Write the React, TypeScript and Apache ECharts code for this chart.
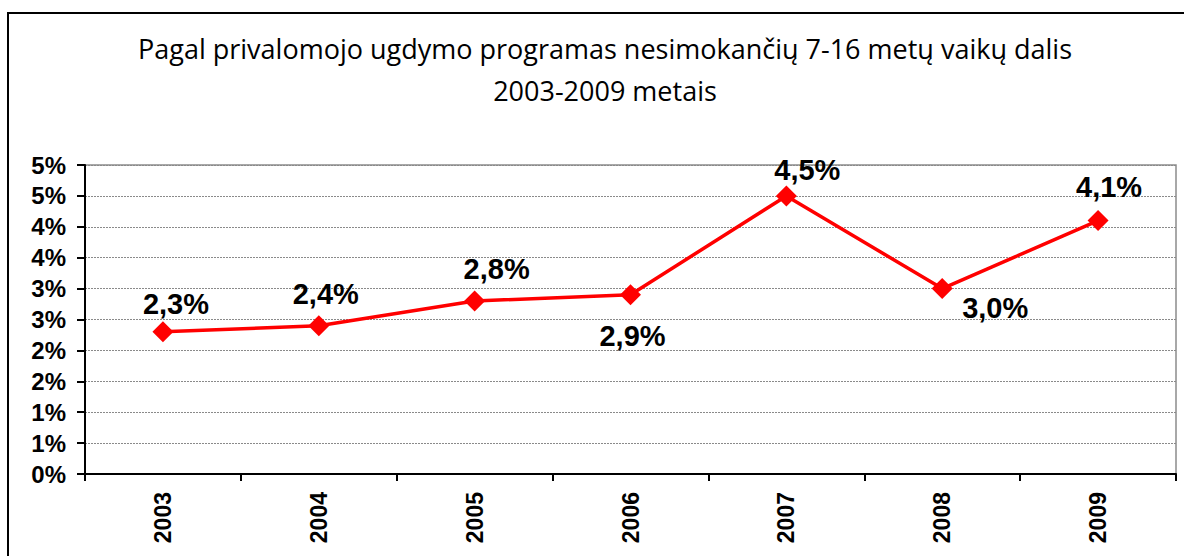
import React, { useEffect, useRef } from "react";
import * as echarts from "echarts";

const titleLine1 = "Pagal privalomojo ugdymo programas nesimokančių 7-16 metų vaikų dalis";
const titleLine2 = "2003-2009 metais";
const years = ["2003", "2004", "2005", "2006", "2007", "2008", "2009"];
const shares = [2.3, 2.4, 2.8, 2.9, 4.5, 3.0, 4.1];
const yMin = 0;
const yMax = 5;
const yStep = 0.5;

const labelPlacement = ["top", "top", "top", "bottom", "top", "bottom", "top"];
const labelShift: [number, number][] = [
  [13, 2],
  [7, -2],
  [22, -2],
  [2, 11],
  [21, 4],
  [53, -11],
  [11, -4],
];

const ARIAL = "'Liberation Sans', Arial, sans-serif";

export default function App() {
  const ref = useRef<HTMLDivElement>(null);
  useEffect(() => {
    if (!ref.current) return;
    const chart = echarts.init(ref.current, null, { renderer: "svg" });
    chart.setOption({
      animation: false,
      backgroundColor: "#ffffff",
      title: [
        {
          text: titleLine1,
          left: 600,
          top: 30,
          textAlign: "center",
          textStyle: { fontFamily: "'Open Sans', sans-serif", fontWeight: "normal", fontSize: 27, color: "#000" },
        },
        {
          text: titleLine2,
          left: 600,
          top: 72,
          textAlign: "center",
          textStyle: { fontFamily: "'Open Sans', sans-serif", fontWeight: "normal", fontSize: 27, color: "#000" },
        },
      ],
      graphic: [
        {
          type: "rect",
          shape: { x: 8, y: 13, width: 1200, height: 600 },
          style: { fill: "none", stroke: "#000", lineWidth: 2 },
          silent: true,
        },
      ],
      grid: {
        left: 85,
        top: 165,
        right: 8,
        bottom: 82,
        show: true,
        borderColor: "#8c8c8c",
        borderWidth: 1.5,
      },
      xAxis: {
        type: "category",
        data: years,
        boundaryGap: true,
        axisLine: { lineStyle: { color: "#000", width: 2 } },
        axisTick: { show: true, length: 7, lineStyle: { color: "#000", width: 2 } },
        axisLabel: {
          rotate: 90,
          margin: 18,
          fontFamily: ARIAL,
          fontWeight: "bold",
          fontSize: 23,
          color: "#000",
        },
      },
      yAxis: {
        type: "value",
        min: yMin,
        max: yMax,
        interval: yStep,
        axisLine: { show: true, lineStyle: { color: "#000", width: 2 } },
        axisTick: { show: true, length: 8, lineStyle: { color: "#000", width: 2 } },
        axisLabel: {
          margin: 19,
          fontFamily: ARIAL,
          fontWeight: "bold",
          fontSize: 24,
          color: "#000",
          formatter: (v: number) => Math.round(v) + "%",
        },
        splitLine: { show: true, lineStyle: { color: "#8a8a8a", width: 1, type: [2, 1] } },
      },
      series: [
        {
          type: "line",
          data: shares.map((v, i) => ({
            value: v,
            label: { position: labelPlacement[i], offset: labelShift[i] },
          })),
          symbol: "diamond",
          symbolSize: 21,
          lineStyle: { color: "#ff0000", width: 3.5 },
          itemStyle: { color: "#ff0000" },
          label: {
            show: true,
            distance: 5,
            fontFamily: ARIAL,
            fontWeight: "bold",
            fontSize: 29,
            color: "#000",
            formatter: (p: any) => p.value.toFixed(1).replace(".", ",") + "%",
          },
        },
      ],
    });
    return () => chart.dispose();
  }, []);
  return (
    <div
      ref={ref}
      style={{ position: "absolute", left: 0, top: 0, width: 1184, height: 556 }}
    />
  );
}
